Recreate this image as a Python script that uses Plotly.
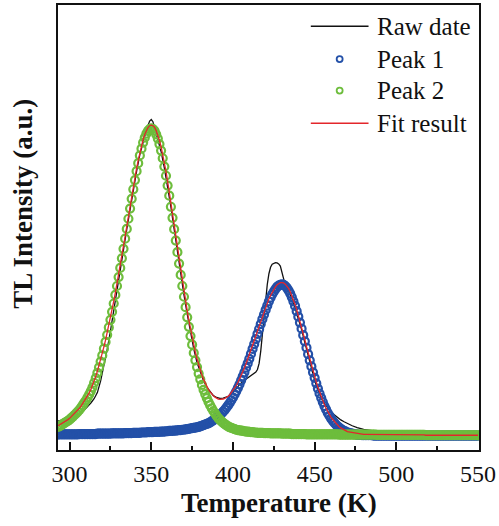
import numpy as np
import plotly.graph_objects as go

# Temperature grid of the fitted components (K), 1 K steps
temperature_k = np.arange(293, 551)

# Deconvoluted glow peaks (a.u.), one value per kelvin from 293 K to 550 K
peak1 = [
    0.004, 0.004, 0.004, 0.004, 0.004, 0.004, 0.004, 0.004, 0.004, 0.004,
    0.004, 0.004, 0.004, 0.005, 0.005, 0.005, 0.005, 0.005, 0.005, 0.005,
    0.005, 0.005, 0.005, 0.005, 0.006, 0.006, 0.006, 0.006, 0.006, 0.006,
    0.006, 0.006, 0.006, 0.007, 0.007, 0.007, 0.007, 0.007, 0.007, 0.007,
    0.007, 0.008, 0.008, 0.008, 0.008, 0.008, 0.009, 0.009, 0.009, 0.009,
    0.009, 0.010, 0.010, 0.010, 0.010, 0.011, 0.011, 0.011, 0.011, 0.012,
    0.012, 0.012, 0.012, 0.013, 0.013, 0.013, 0.014, 0.014, 0.015, 0.015,
    0.015, 0.016, 0.016, 0.017, 0.018, 0.018, 0.019, 0.019, 0.020, 0.021,
    0.022, 0.023, 0.024, 0.025, 0.026, 0.027, 0.028, 0.030, 0.032, 0.034,
    0.036, 0.038, 0.040, 0.043, 0.046, 0.050, 0.053, 0.057, 0.062, 0.067,
    0.072, 0.078, 0.084, 0.091, 0.098, 0.106, 0.115, 0.124, 0.134, 0.144,
    0.155, 0.167, 0.180, 0.193, 0.206, 0.221, 0.235, 0.250, 0.266, 0.282,
    0.298, 0.314, 0.331, 0.347, 0.363, 0.379, 0.394, 0.409, 0.423, 0.437,
    0.449, 0.460, 0.469, 0.477, 0.484, 0.488, 0.491, 0.492, 0.491, 0.487,
    0.481, 0.473, 0.463, 0.451, 0.437, 0.422, 0.405, 0.387, 0.368, 0.348,
    0.327, 0.307, 0.286, 0.265, 0.245, 0.225, 0.206, 0.188, 0.170, 0.153,
    0.137, 0.123, 0.109, 0.096, 0.085, 0.074, 0.065, 0.056, 0.049, 0.042,
    0.036, 0.030, 0.026, 0.022, 0.018, 0.015, 0.013, 0.010, 0.009, 0.007,
    0.006, 0.005, 0.004, 0.003, 0.002, 0.002, 0.001, 0.001, 0.001, 0.001,
    0.001, 0.001, 0.001, 0.000, 0.000, 0.000, 0.000, 0.000, 0.000, 0.000,
    0.000, 0.000, 0.000, 0.000, 0.000, 0.000, 0.000, 0.000, 0.000, 0.000,
    0.000, 0.000, 0.000, 0.000, 0.000, 0.000, 0.000, 0.000, 0.000, 0.000,
    0.000, 0.000, 0.000, 0.000, 0.000, 0.000, 0.000, 0.000, 0.000, 0.000,
    0.000, 0.000, 0.000, 0.000, 0.000, 0.000, 0.000, 0.000, 0.000, 0.000,
    0.000, 0.000, 0.000, 0.000, 0.000, 0.000, 0.000, 0.000, 0.000, 0.000,
    0.000, 0.000, 0.000, 0.000, 0.000, 0.000, 0.000, 0.000,
]

peak2 = [
    0.028, 0.031, 0.034, 0.038, 0.041, 0.045, 0.048, 0.052, 0.057, 0.062,
    0.067, 0.072, 0.078, 0.084, 0.091, 0.099, 0.107, 0.115, 0.124, 0.134,
    0.145, 0.157, 0.172, 0.187, 0.204, 0.222, 0.241, 0.261, 0.283, 0.305,
    0.328, 0.352, 0.377, 0.403, 0.430, 0.458, 0.487, 0.516, 0.546, 0.577,
    0.608, 0.641, 0.673, 0.706, 0.739, 0.771, 0.802, 0.832, 0.861, 0.887,
    0.912, 0.934, 0.954, 0.970, 0.983, 0.992, 0.998, 1.000, 0.998, 0.992,
    0.981, 0.967, 0.949, 0.928, 0.903, 0.876, 0.846, 0.814, 0.781, 0.745,
    0.709, 0.672, 0.635, 0.597, 0.560, 0.523, 0.487, 0.452, 0.418, 0.385,
    0.354, 0.324, 0.296, 0.269, 0.245, 0.223, 0.202, 0.183, 0.165, 0.149,
    0.135, 0.122, 0.110, 0.099, 0.089, 0.080, 0.072, 0.064, 0.057, 0.051,
    0.046, 0.041, 0.037, 0.033, 0.030, 0.027, 0.025, 0.023, 0.021, 0.019,
    0.018, 0.017, 0.016, 0.015, 0.014, 0.013, 0.013, 0.012, 0.011, 0.011,
    0.010, 0.010, 0.009, 0.009, 0.009, 0.009, 0.008, 0.008, 0.008, 0.008,
    0.007, 0.007, 0.007, 0.007, 0.007, 0.007, 0.007, 0.006, 0.006, 0.006,
    0.006, 0.006, 0.006, 0.005, 0.005, 0.005, 0.005, 0.005, 0.005, 0.005,
    0.005, 0.005, 0.004, 0.004, 0.004, 0.004, 0.004, 0.004, 0.004, 0.004,
    0.004, 0.004, 0.004, 0.004, 0.004, 0.004, 0.004, 0.004, 0.004, 0.004,
    0.004, 0.004, 0.003, 0.003, 0.003, 0.003, 0.003, 0.003, 0.003, 0.003,
    0.003, 0.003, 0.003, 0.003, 0.003, 0.003, 0.003, 0.003, 0.003, 0.003,
    0.003, 0.003, 0.003, 0.003, 0.003, 0.002, 0.002, 0.002, 0.002, 0.002,
    0.002, 0.002, 0.002, 0.002, 0.002, 0.002, 0.002, 0.002, 0.002, 0.002,
    0.002, 0.002, 0.002, 0.002, 0.002, 0.002, 0.002, 0.002, 0.002, 0.002,
    0.002, 0.002, 0.002, 0.002, 0.002, 0.001, 0.001, 0.001, 0.001, 0.001,
    0.001, 0.001, 0.001, 0.001, 0.001, 0.001, 0.001, 0.001, 0.001, 0.001,
    0.001, 0.001, 0.001, 0.001, 0.001, 0.001, 0.001, 0.001, 0.001, 0.001,
    0.001, 0.001, 0.001, 0.001, 0.001, 0.001, 0.001, 0.001,
]

# Measured glow curve (a.u.)
raw_temperature_k = [
    293, 295, 297, 299, 301, 303, 305, 307, 309, 311, 313, 315, 317, 319,
    321, 323, 325, 327, 329, 331, 333, 335, 337, 339, 341, 343, 345, 346,
    347, 348, 349, 350, 351, 352, 353, 354, 356, 358, 360, 362, 364, 366,
    368, 370, 372, 374, 376, 378, 380, 382, 384, 386, 388, 390, 392, 394,
    396, 398, 400, 402, 404, 406, 408, 410, 412, 414, 415, 416, 417, 418,
    419, 420, 421, 422, 423, 424, 425, 426, 427, 428, 429, 430, 431, 432,
    434, 436, 438, 440, 442, 444, 446, 448, 450, 452, 454, 456, 458, 460,
    462, 464, 466, 468, 470, 473, 476, 480, 485, 490, 495, 500, 510, 520,
    530, 540, 550,
]
raw_intensity = [
    0.048, 0.050, 0.051, 0.052, 0.055, 0.060, 0.066, 0.074, 0.083, 0.094,
    0.106, 0.120, 0.140, 0.178, 0.225, 0.280, 0.340, 0.410, 0.478, 0.540,
    0.605, 0.672, 0.738, 0.800, 0.860, 0.915, 0.960, 0.978, 0.995, 1.010,
    1.024, 1.029, 1.022, 1.003, 0.985, 0.968, 0.925, 0.872, 0.812, 0.745,
    0.672, 0.598, 0.525, 0.458, 0.395, 0.335, 0.282, 0.238, 0.205, 0.178,
    0.158, 0.142, 0.130, 0.124, 0.121, 0.122, 0.125, 0.129, 0.140, 0.154,
    0.166, 0.176, 0.184, 0.191, 0.199, 0.207, 0.215, 0.235, 0.275, 0.330,
    0.390, 0.445, 0.492, 0.527, 0.548, 0.558, 0.562, 0.563, 0.562, 0.559,
    0.552, 0.530, 0.505, 0.490, 0.470, 0.446, 0.415, 0.382, 0.345, 0.303,
    0.260, 0.218, 0.180, 0.148, 0.122, 0.104, 0.090, 0.078, 0.068, 0.059,
    0.051, 0.045, 0.039, 0.032, 0.026, 0.020, 0.016, 0.013, 0.010, 0.007,
    0.004, 0.003, 0.002, 0.002, 0.001,
]

legend_labels = ["Raw date", "Peak 1", "Peak 2", "Fit result"]
x_ticks = [300, 350, 400, 450, 500, 550]

# Two-peak fit: sum of the deconvoluted components
fit_result = np.round(np.add(peak1, peak2), 3)

SERIF = "Liberation Serif, Times New Roman, serif"
BLACK = "#111111"
BLUE = "#2350a8"
GREEN = "#6dbd3c"
RED = "#e3262b"

fig = go.Figure()
fig.add_trace(go.Scatter(
    x=raw_temperature_k, y=raw_intensity, mode="lines", name=legend_labels[0],
    line=dict(color=BLACK, width=1.3), showlegend=False,
))
fig.add_trace(go.Scatter(
    x=temperature_k, y=peak1, mode="markers", name=legend_labels[1],
    marker=dict(symbol="circle-open", size=8, color=BLUE, line=dict(width=2.2, color=BLUE)),
    showlegend=False,
))
fig.add_trace(go.Scatter(
    x=temperature_k, y=peak2, mode="markers", name=legend_labels[2],
    marker=dict(symbol="circle-open", size=8, color=GREEN, line=dict(width=2.2, color=GREEN)),
    showlegend=False,
))
fig.add_trace(go.Scatter(
    x=temperature_k, y=fit_result, mode="lines", name=legend_labels[3],
    line=dict(color=RED, width=1.3), showlegend=False,
))

# Legend drawn in paper coordinates so the sample lines can be long
shapes = []
annotations = []
sym_x0, sym_x1, sym_xc, text_x = 0.6005, 0.7376, 0.669, 0.7541
rows_y = [0.9523, 0.8785, 0.8076, 0.7345]
kinds = [("line", BLACK), ("circle", BLUE), ("circle", GREEN), ("line", RED)]
for label, y, (kind, color) in zip(legend_labels, rows_y, kinds):
    if kind == "line":
        shapes.append(dict(type="line", xref="paper", yref="paper",
                           x0=sym_x0, x1=sym_x1, y0=y, y1=y,
                           line=dict(color=color, width=1.5)))
    else:
        shapes.append(dict(type="circle", xref="paper", yref="paper",
                           xsizemode="pixel", ysizemode="pixel",
                           xanchor=sym_xc, yanchor=y, x0=-3, x1=3, y0=-3, y1=3,
                           line=dict(color=color, width=1.8)))
    annotations.append(dict(text=label, xref="paper", yref="paper", x=text_x, y=y,
                            xanchor="left", yanchor="middle", showarrow=False,
                            font=dict(family=SERIF, size=25, color=BLACK)))

annotations.append(dict(text="Temperature (K)", xref="paper", yref="paper",
                        x=0.5248, y=-0.12, xanchor="center", yanchor="middle",
                        showarrow=False,
                        font=dict(family=SERIF, size=27, color=BLACK, weight="bold")))
annotations.append(dict(text="TL Intensity (a.u.)", xref="paper", yref="paper",
                        x=-0.084, y=0.5526, xanchor="center", yanchor="middle",
                        textangle=-90, showarrow=False,
                        font=dict(family=SERIF, size=27, color=BLACK, weight="bold")))

fig.update_layout(
    width=499, height=526,
    margin=dict(l=58, r=18, t=3, b=76),
    paper_bgcolor="white", plot_bgcolor="white",
    showlegend=False,
    shapes=shapes, annotations=annotations,
    font=dict(family=SERIF, color=BLACK),
)
fig.update_xaxes(
    range=[292.9, 550.6], tickvals=x_ticks, ticks="inside", ticklen=8, tickwidth=1.5,
    tickcolor=BLACK, minor=dict(ticks="inside", ticklen=4, tickwidth=1.5, dtick=25,
                                tick0=300, tickcolor=BLACK),
    tickfont=dict(family=SERIF, size=24, color=BLACK), ticklabelstandoff=1,
    showline=True, linecolor=BLACK, linewidth=1.8, mirror=True,
    showgrid=False, zeroline=False,
)
fig.update_yaxes(
    range=[-0.047, 1.402], showticklabels=False, ticks="",
    showline=True, linecolor=BLACK, linewidth=1.8, mirror=True,
    showgrid=False, zeroline=False,
)

fig.write_html("out.html")
